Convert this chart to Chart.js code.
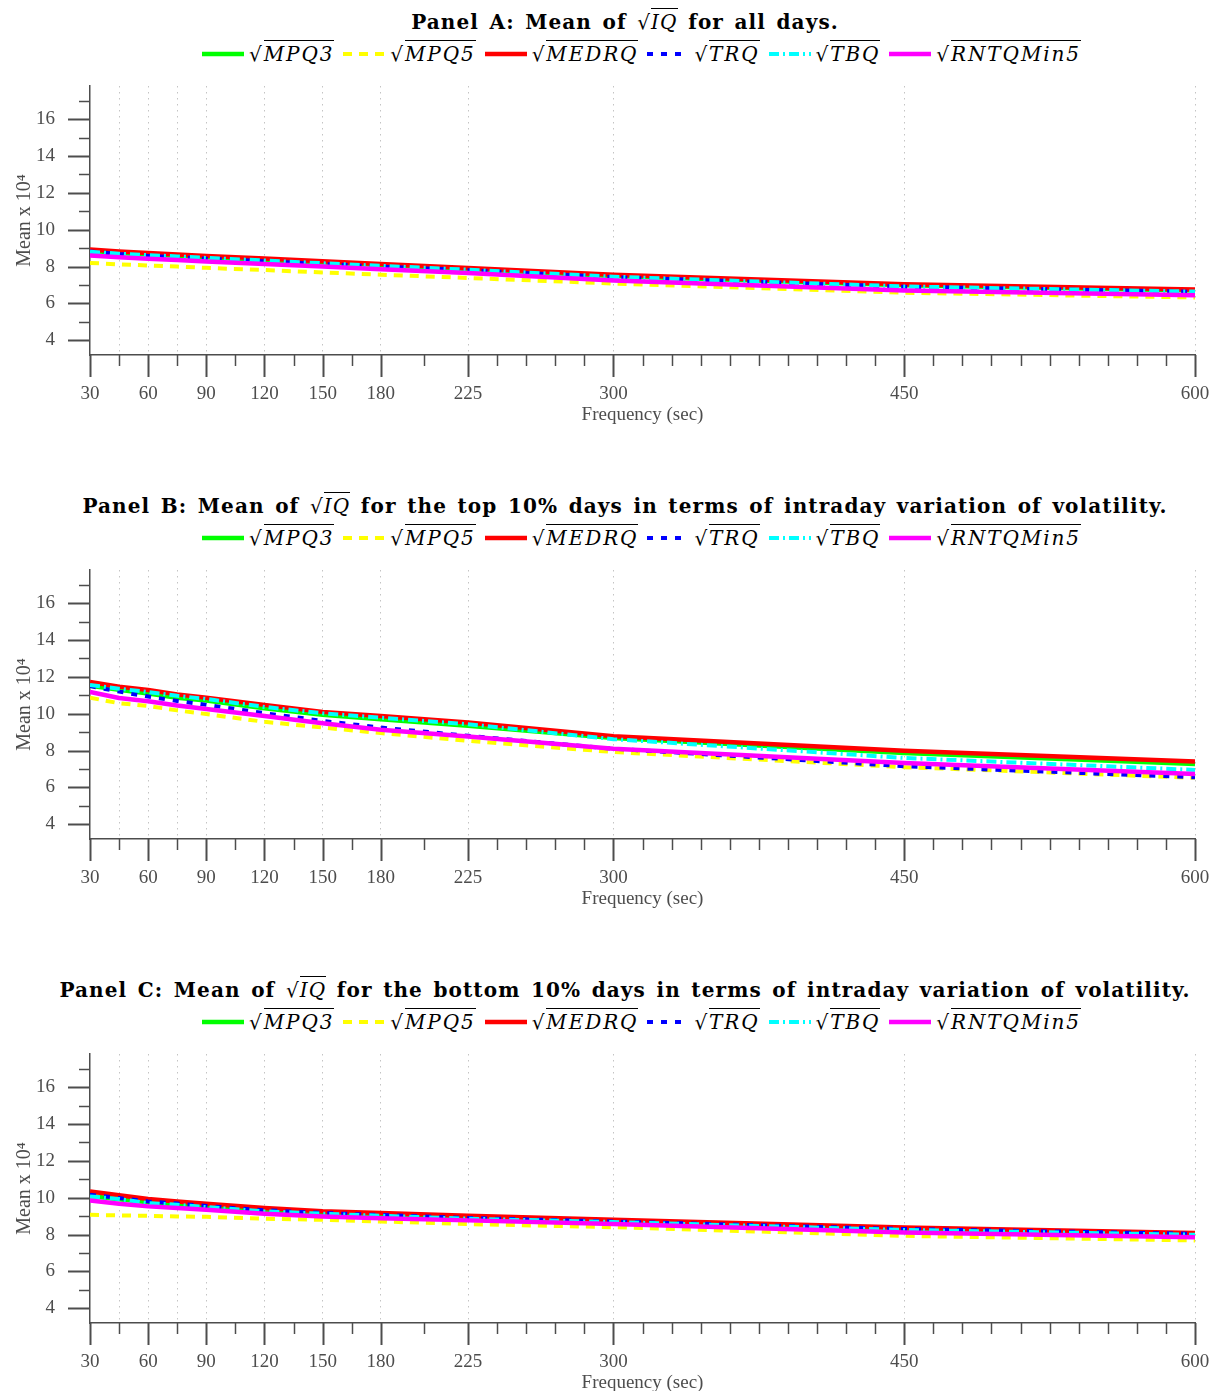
<!DOCTYPE html>
<html>
<head>
<meta charset="utf-8">
<script src="https://cdn.jsdelivr.net/npm/chart.js@4.4.0/dist/chart.umd.min.js"></script>
<style>
  body { margin: 0; background: #fff; width: 1215px; height: 1391px; overflow: hidden; position: relative; }
  .panel { position: absolute; left: 0; width: 1215px; height: 484px; }
  .ptitle { position: absolute; left: 0; width: 1250px; top: 7px; text-align: center; white-space: nowrap;
            font-family: "DejaVu Serif", serif; font-weight: bold; font-size: 20px; line-height: 30px;
            letter-spacing: 1.1px; word-spacing: 2.5px; color: #000; }
  .legend { position: absolute; left: 0; width: 1292px; top: 40px; height: 28px; display: flex;
            justify-content: center; align-items: center; white-space: nowrap; }
  .legend canvas { margin-right: 5px; }
  .legend .lab { margin-right: 9px; font-family: "DejaVu Serif", serif; font-style: italic; font-size: 20px;
                 letter-spacing: 1.9px; color: #000; }
  .rad { font-style: normal; font-weight: normal; }
  .ov { border-top: 1.3px solid #000; font-style: italic; font-weight: normal; padding-top: 1px; }
  .plot { position: absolute; left: 0; top: 70px; }
</style>
</head>
<body>
<div class="panel" id="pA" style="top:0px">
  <div class="ptitle">Panel A: Mean of <span class="rad">√</span><span class="ov">IQ</span> for all days.</div>
  <div class="legend" id="legA"></div>
  <canvas class="plot" id="cA" width="1215" height="370"></canvas>
</div>
<div class="panel" id="pB" style="top:484px">
  <div class="ptitle">Panel B: Mean of <span class="rad">√</span><span class="ov">IQ</span> for the top 10% days in terms of intraday variation of volatility.</div>
  <div class="legend" id="legB"></div>
  <canvas class="plot" id="cB" width="1215" height="370"></canvas>
</div>
<div class="panel" id="pC" style="top:968px">
  <div class="ptitle">Panel C: Mean of <span class="rad">√</span><span class="ov">IQ</span> for the bottom 10% days in terms of intraday variation of volatility.</div>
  <div class="legend" id="legC"></div>
  <canvas class="plot" id="cC" width="1215" height="370"></canvas>
</div>
<script>
// sampling frequencies (sec)
const freqs = [30, 45, 60, 75, 90, 120, 150, 180, 225, 300, 450, 600];
const seriesNames = ['MPQ3', 'MPQ5', 'MEDRQ', 'TRQ', 'TBQ', 'RNTQMin5'];

// axis ticks
const xTickValues = [30, 45, 60, 75, 90, 105, 120, 135, 150, 165, 180, 202.5, 225, 240, 255, 270, 285, 300,
  315, 330, 345, 360, 375, 390, 405, 420, 435, 450, 465, 480, 495, 510, 525, 540, 555, 570, 585, 600];
const xTickLabels = [30, 60, 90, 120, 150, 180, 225, 300, 450, 600];
const yTickValues = [4, 5, 6, 7, 8, 9, 10, 11, 12, 13, 14, 15, 16, 17];
const yTickLabels = [4, 6, 8, 10, 12, 14, 16];

// Panel A: all days
const aMPQ3     = [8.86, 8.74, 8.66, 8.58, 8.50, 8.36, 8.22, 8.08, 7.87, 7.49, 6.98, 6.70];
const aMPQ5     = [8.20, 8.12, 8.06, 8.00, 7.93, 7.81, 7.68, 7.56, 7.38, 7.08, 6.58, 6.32];
const aMEDRQ    = [8.92, 8.82, 8.74, 8.66, 8.58, 8.44, 8.29, 8.14, 7.92, 7.55, 7.04, 6.76];
const aTRQ      = [8.82, 8.68, 8.58, 8.50, 8.43, 8.29, 8.14, 8.00, 7.80, 7.42, 6.90, 6.63];
const aTBQ      = [8.80, 8.70, 8.62, 8.55, 8.47, 8.33, 8.18, 8.04, 7.83, 7.45, 6.92, 6.64];
const aRNTQMin5 = [8.60, 8.50, 8.42, 8.35, 8.28, 8.14, 8.00, 7.86, 7.65, 7.24, 6.70, 6.44];

// Panel B: top 10% days
const bMPQ3     = [11.52, 11.30, 11.10, 10.87, 10.71, 10.30, 9.94, 9.70, 9.34, 8.68, 7.87, 7.27];
const bMPQ5     = [10.87, 10.57, 10.42, 10.18, 9.98, 9.56, 9.25, 8.95, 8.53, 7.92, 7.10, 6.52];
const bMEDRQ    = [11.72, 11.47, 11.29, 11.05, 10.87, 10.48, 10.10, 9.88, 9.52, 8.78, 7.99, 7.40];
const bTRQ      = [11.50, 11.20, 10.93, 10.69, 10.48, 10.03, 9.61, 9.25, 8.80, 8.10, 7.15, 6.55];
const bTBQ      = [11.56, 11.36, 11.18, 10.97, 10.80, 10.37, 10.02, 9.78, 9.43, 8.62, 7.60, 6.95];
const bRNTQMin5 = [11.18, 10.85, 10.68, 10.45, 10.26, 9.87, 9.48, 9.13, 8.76, 8.10, 7.33, 6.73];

// Panel C: bottom 10% days
const cMPQ3     = [10.10, 9.92, 9.75, 9.63, 9.52, 9.30, 9.15, 9.04, 8.88, 8.68, 8.28, 8.00];
const cMPQ5     = [9.07, 9.04, 9.02, 8.98, 8.96, 8.86, 8.80, 8.71, 8.57, 8.40, 7.93, 7.68];
const cMEDRQ    = [10.34, 10.13, 9.93, 9.80, 9.67, 9.44, 9.26, 9.17, 9.02, 8.80, 8.39, 8.08];
const cTRQ      = [10.16, 9.98, 9.80, 9.68, 9.55, 9.32, 9.17, 9.06, 8.90, 8.71, 8.30, 8.04];
const cTBQ      = [10.07, 9.93, 9.71, 9.62, 9.49, 9.26, 9.13, 9.02, 8.86, 8.68, 8.25, 7.99];
const cRNTQMin5 = [9.85, 9.67, 9.53, 9.44, 9.35, 9.13, 8.98, 8.89, 8.77, 8.57, 8.11, 7.86];

const colors = ['#00ff00', '#ffff00', '#ff0000', '#0000ff', '#00ffff', '#ff00ff'];
const widths = [4.5, 4, 4.5, 4, 4, 4.5];
const dashes = [[], [9, 7], [], [6, 8], [10, 4, 2, 4], []];
const AXIS = '#4d4d4d';
const serif = 'Liberation Serif';

const tickMarks = {
  id: 'tickMarks',
  afterDraw(chart) {
    const { ctx, chartArea, scales: { x, y } } = chart;
    ctx.save();
    ctx.strokeStyle = AXIS;
    xTickValues.forEach(v => {
      const px = Math.round(x.getPixelForValue(v)) + 0.5;
      const major = xTickLabels.includes(v);
      ctx.lineWidth = major ? 2 : 1.5;
      ctx.beginPath();
      ctx.moveTo(px, chartArea.bottom);
      ctx.lineTo(px, chartArea.bottom + (major ? 22 : 11));
      ctx.stroke();
    });
    yTickValues.forEach(v => {
      const py = Math.round(y.getPixelForValue(v)) + 0.5;
      const major = yTickLabels.includes(v);
      ctx.lineWidth = major ? 2 : 1.5;
      ctx.beginPath();
      ctx.moveTo(chartArea.left - (major ? 22 : 11), py);
      ctx.lineTo(chartArea.left, py);
      ctx.stroke();
    });
    ctx.restore();
  }
};

function makeChart(canvasId, legendId, series) {
  const chart = new Chart(document.getElementById(canvasId), {
    type: 'line',
    data: {
      datasets: seriesNames.map((n, i) => ({
        label: n,
        data: freqs.map((f, j) => ({ x: f, y: series[i][j] })),
        borderColor: colors[i],
        borderWidth: widths[i],
        borderDash: dashes[i],
        borderCapStyle: 'butt',
        borderJoinStyle: 'round',
        pointRadius: 0,
        tension: 0,
        fill: false,
        order: 6 - i
      }))
    },
    options: {
      responsive: false,
      animation: false,
      devicePixelRatio: 1,
      layout: { padding: { top: 16, right: 20, left: 0, bottom: 0 } },
      plugins: { legend: { display: false }, title: { display: false }, tooltip: { enabled: false } },
      scales: {
        x: {
          type: 'linear', min: 30, max: 600,
          afterBuildTicks: s => { s.ticks = xTickValues.map(v => ({ value: v })); },
          afterFit: s => { s.height = 85; s.paddingLeft = 0; s.paddingRight = 0; },
          ticks: {
            autoSkip: false, maxRotation: 0, padding: 28, color: AXIS,
            font: { family: serif, size: 19 },
            callback: v => xTickLabels.includes(v) ? String(v) : ''
          },
          grid: {
            drawTicks: false, lineWidth: 1,
            color: c => (c.tick && freqs.includes(c.tick.value) && c.tick.value !== 30) ? '#c4c4c4' : 'rgba(0,0,0,0)'
          },
          border: { display: true, color: AXIS, width: 1.5, dash: [1.5, 4.5] },
          title: { display: true, text: 'Frequency (sec)', color: AXIS, font: { family: serif, size: 19 }, padding: { top: 0, bottom: 14 } }
        },
        y: {
          min: 3.2, max: 17.8,
          afterBuildTicks: s => { s.ticks = yTickValues.map(v => ({ value: v })); },
          afterFit: s => { s.width = 90; s.paddingTop = 0; s.paddingBottom = 0; },
          ticks: {
            padding: 27, color: AXIS, font: { family: serif, size: 19 },
            callback: v => yTickLabels.includes(v) ? String(v) : ''
          },
          grid: { display: false },
          border: { display: true, color: AXIS, width: 1.5 },
          title: { display: true, text: 'Mean x 10⁴', color: AXIS, font: { family: serif, size: 20 }, padding: { top: 13, bottom: 0 } }
        }
      }
    },
    plugins: [tickMarks]
  });

  // html legend built from the datasets (keeps the sqrt overline as real text)
  const leg = document.getElementById(legendId);
  chart.data.datasets.forEach(ds => {
    const sw = document.createElement('canvas');
    sw.width = 42; sw.height = 10;
    const g = sw.getContext('2d');
    g.strokeStyle = ds.borderColor;
    g.lineWidth = ds.borderWidth;
    g.setLineDash(ds.borderDash);
    g.beginPath(); g.moveTo(0, 5); g.lineTo(42, 5); g.stroke();
    leg.appendChild(sw);
    const lab = document.createElement('span');
    lab.className = 'lab';
    lab.innerHTML = '<span class="rad">√</span><span class="ov">' + ds.label + '</span>';
    leg.appendChild(lab);
  });
  return chart;
}

makeChart('cA', 'legA', [aMPQ3, aMPQ5, aMEDRQ, aTRQ, aTBQ, aRNTQMin5]);
makeChart('cB', 'legB', [bMPQ3, bMPQ5, bMEDRQ, bTRQ, bTBQ, bRNTQMin5]);
makeChart('cC', 'legC', [cMPQ3, cMPQ5, cMEDRQ, cTRQ, cTBQ, cRNTQMin5]);
</script>
</body>
</html>
